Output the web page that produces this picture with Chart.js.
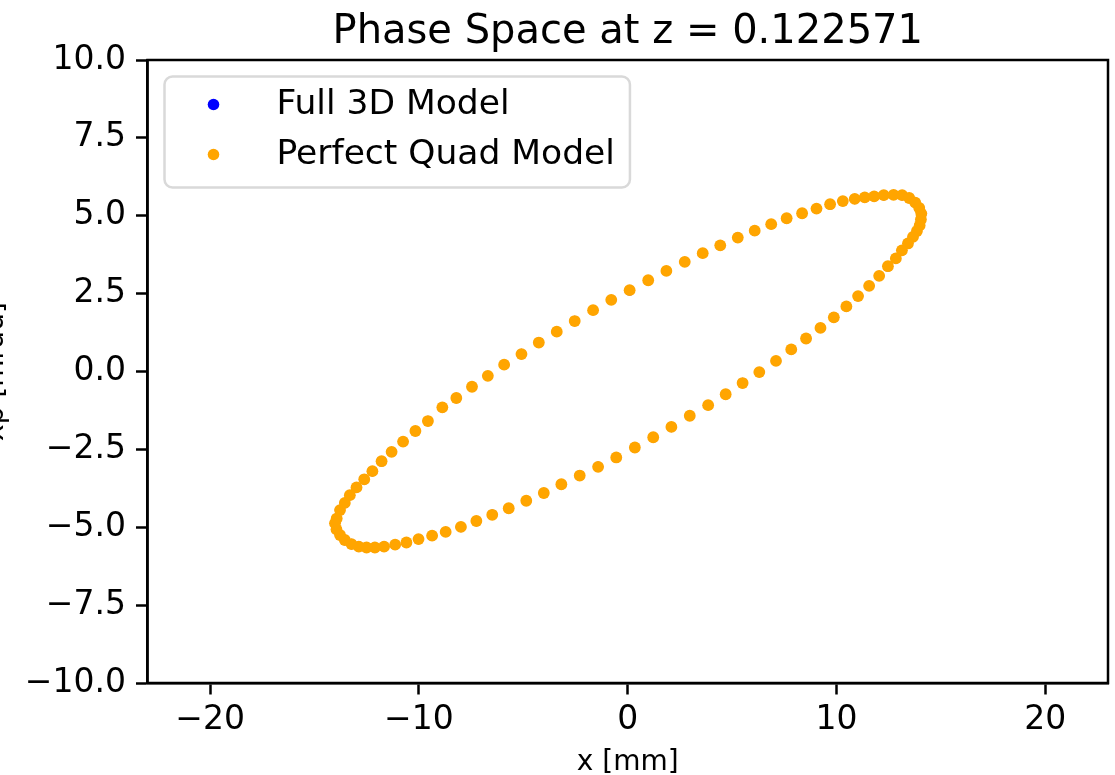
<!DOCTYPE html>
<html>
<head>
<meta charset="utf-8">
<title>Phase Space</title>
<script src="https://cdn.jsdelivr.net/npm/chart.js@4.4.1/dist/chart.umd.min.js"></script>
<style>
  html, body { margin: 0; padding: 0; background: #ffffff; }
  canvas { display: block; }
</style>
</head>
<body>
<canvas id="phaseChart" width="1115" height="775"></canvas>
<script>
// phase space samples at z = 0.122571, x in mm, xp in mrad
// (upper arc left -> right, then lower arc back to the left end)
const xMm = [
  -13.94, -13.78, -13.55, -13.31, -12.99, -12.62, -12.23, -11.79, -11.31, -10.76, -10.17, -9.57,
  -8.88, -8.21, -7.46, -6.70, -5.92, -5.09, -4.26, -3.40, -2.54, -1.66, -0.79, 0.09, 0.98, 1.85, 2.73,
  3.59, 4.43, 5.27, 6.08, 6.87, 7.61, 8.35, 9.04, 9.69, 10.30, 10.87, 11.35, 11.80, 12.26, 12.73,
  13.14, 13.48, 13.77, 13.96, 14.06, 14.04, 13.98, 13.85, 13.66, 13.42, 13.13, 12.84, 12.46,
  12.04, 11.56, 11.03, 10.47, 9.87, 9.23, 8.54, 7.83, 7.10, 6.30, 5.50, 4.69, 3.85, 2.97, 2.09, 1.22, 0.34,
  -0.55, -1.42, -2.30, -3.18, -4.02, -4.86, -5.70, -6.49, -7.25, -7.99, -8.72, -9.37, -10.02, -10.60,
  -11.14, -11.67, -12.11, -12.51, -12.88, -13.23, -13.55, -13.78, -13.95, -14.02
];
const xpMrad = [
  -4.72, -4.45, -4.22, -3.97, -3.72, -3.46, -3.20, -2.88, -2.58, -2.25, -1.91, -1.59,
  -1.15, -0.85, -0.49, -0.14, 0.22, 0.56, 0.93, 1.28, 1.62, 1.97, 2.30, 2.61, 2.93, 3.23, 3.52,
  3.80, 4.05, 4.30, 4.52, 4.73, 4.92, 5.08, 5.23, 5.37, 5.47, 5.54, 5.59, 5.62, 5.66, 5.67,
  5.66, 5.57, 5.42, 5.25, 5.07, 4.88, 4.69, 4.51, 4.32, 4.11, 3.89, 3.63, 3.38,
  3.07, 2.75, 2.42, 2.09, 1.74, 1.40, 1.06, 0.71, 0.34, -0.02, -0.37, -0.73, -1.08, -1.42, -1.78, -2.11, -2.44,
  -2.76, -3.06, -3.34, -3.62, -3.90, -4.15, -4.39, -4.60, -4.80, -4.99, -5.15, -5.27, -5.38, -5.49,
  -5.56, -5.62, -5.65, -5.65, -5.62, -5.54, -5.41, -5.25, -5.07, -4.87
];

// the full 3D tracking lands on the same points, it sits under the quad model
const full3dX = xMm;
const full3dXp = xpMrad;

const seriesNames = ["Full 3D Model", "Perfect Quad Model"];
const xTicks = [-20, -10, 0, 10, 20];
const yTicks = [-10, -7.5, -5, -2.5, 0, 2.5, 5, 7.5, 10];

const titleText = "Phase Space at z = 0.122571";
const xLabel = "x [mm]";
const yLabel = "xp [mrad]";
const FONT = '"DejaVu Sans", sans-serif';

function toPoints(xs, ys) {
  return xs.map((x, i) => ({ x: x, y: ys[i] }));
}

function minusSign(v, digits) {
  const s = digits ? Math.abs(v).toFixed(digits) : String(Math.abs(v));
  return (v < 0 ? "\u2212" : "") + s;
}

// frame, title, axis labels and the legend box are drawn by hand
const decorations = {
  id: "decorations",
  afterDraw(chart) {
    const ctx = chart.ctx;
    const a = chart.chartArea;
    const midX = (a.left + a.right) / 2;
    ctx.save();

    ctx.strokeStyle = "#000";
    ctx.lineWidth = 2.5;
    ctx.strokeRect(a.left, a.top, a.right - a.left, a.bottom - a.top);

    ctx.fillStyle = "#000";
    ctx.textAlign = "center";
    ctx.textBaseline = "alphabetic";
    ctx.font = "40px " + FONT;
    ctx.fillText(titleText, midX, 43);

    ctx.font = "28px " + FONT;
    ctx.fillText(xLabel, midX, 770);

    ctx.save();
    ctx.translate(2.5, (a.top + a.bottom) / 2);
    ctx.rotate(-Math.PI / 2);
    ctx.fillText(yLabel, 0, 0);
    ctx.restore();

    // legend
    const ds = chart.data.datasets;
    const boxL = 164.5, boxT = 76.5, rowH = 50;
    const textX = 276.5;
    ctx.font = "34.5px " + FONT;
    let maxW = 0;
    ds.forEach(d => { maxW = Math.max(maxW, ctx.measureText(d.label).width); });
    const boxW = textX + maxW + 15 - boxL;
    const boxH = 111;
    const r = 8;
    ctx.beginPath();
    ctx.moveTo(boxL + r, boxT);
    ctx.arcTo(boxL + boxW, boxT, boxL + boxW, boxT + boxH, r);
    ctx.arcTo(boxL + boxW, boxT + boxH, boxL, boxT + boxH, r);
    ctx.arcTo(boxL, boxT + boxH, boxL, boxT, r);
    ctx.arcTo(boxL, boxT, boxL + boxW, boxT, r);
    ctx.closePath();
    ctx.fillStyle = "rgba(255,255,255,0.8)";
    ctx.fill();
    ctx.strokeStyle = "#d9d9d9";
    ctx.lineWidth = 2.5;
    ctx.stroke();

    ctx.textAlign = "left";
    ctx.textBaseline = "middle";
    ds.forEach((d, i) => {
      const y = 104.5 + i * rowH;
      ctx.beginPath();
      ctx.arc(213.5, y, 5.8, 0, Math.PI * 2);
      ctx.fillStyle = d.backgroundColor;
      ctx.fill();
      ctx.fillStyle = "#000";
      ctx.fillText(d.label, textX, y + 1);
    });

    ctx.restore();
  }
};

const tickFont = { family: FONT, size: 33 };

const ctx = document.getElementById("phaseChart").getContext("2d");
const phaseChart = new Chart(ctx, {
  type: "scatter",
  data: {
    datasets: [{
      label: seriesNames[0],
      data: toPoints(full3dX, full3dXp),
      backgroundColor: "#0000ff",
      pointRadius: 5.2,
      pointHoverRadius: 5.2,
      pointBorderWidth: 0,
      order: 1
    }, {
      label: seriesNames[1],
      data: toPoints(xMm, xpMrad),
      backgroundColor: "#ffa500",
      pointRadius: 5.9,
      pointHoverRadius: 5.9,
      pointBorderWidth: 0,
      order: 0
    }]
  },
  options: {
    responsive: false,
    animation: false,
    devicePixelRatio: 1,
    layout: { padding: { top: 60, right: 7, bottom: 0, left: 0 } },
    plugins: {
      legend: { display: false },
      title: { display: false },
      tooltip: { enabled: false }
    },
    scales: {
      x: {
        type: "linear",
        min: -23,
        max: 23,
        afterBuildTicks: s => { s.ticks = xTicks.map(v => ({ value: v })); },
        afterFit: s => { s.height = 92; },
        border: { display: true, color: "#000", width: 2.5 },
        grid: { drawOnChartArea: false, drawTicks: true, tickLength: 11.5, tickWidth: 2.5, tickColor: "#000" },
        ticks: {
          color: "#000",
          font: tickFont,
          padding: 6,
          maxRotation: 0,
          autoSkip: false,
          callback: v => minusSign(v, 0)
        }
      },
      y: {
        type: "linear",
        min: -10,
        max: 10,
        afterBuildTicks: s => { s.ticks = yTicks.map(v => ({ value: v })); },
        afterFit: s => { s.width = 147.5; },
        border: { display: true, color: "#000", width: 2.5 },
        grid: { drawOnChartArea: false, drawTicks: true, tickLength: 11.5, tickWidth: 2.5, tickColor: "#000" },
        ticks: {
          color: "#000",
          font: tickFont,
          padding: 10,
          autoSkip: false,
          callback: v => minusSign(v, 1)
        }
      }
    }
  },
  plugins: [decorations]
});
</script>
</body>
</html>
